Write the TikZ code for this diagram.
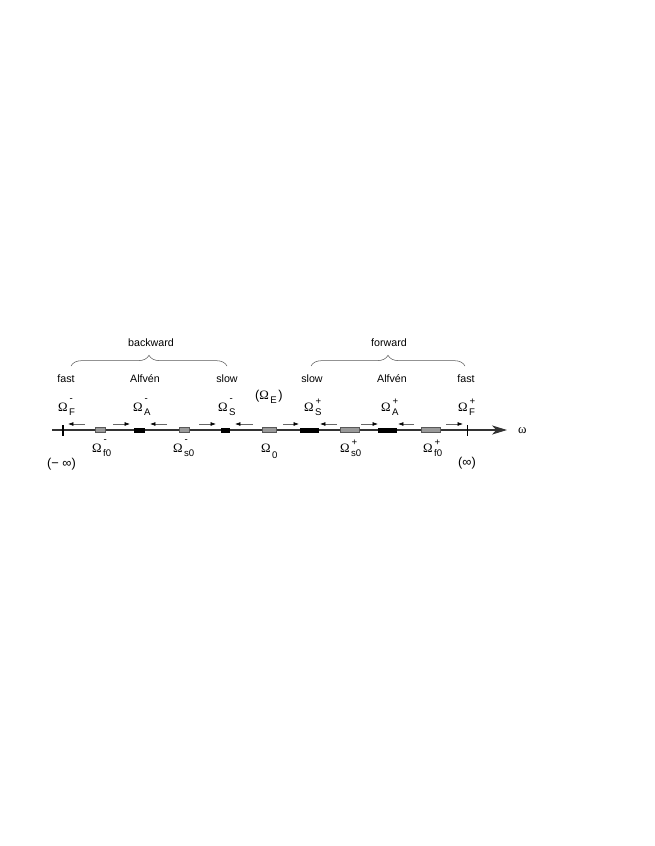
\documentclass[tikz,border=0pt]{standalone}
\usepackage{fontspec}
\setmainfont{Liberation Sans}
\newfontfamily\grk{Liberation Serif}
\usetikzlibrary{arrows.meta,decorations.pathreplacing}

% Omega with a stacked sub- and superscript
\newcommand{\mn}{\raisebox{2.5pt}{-}}
\newcommand{\om}[3][4.2pt]{{\grk\fontsize{12}{12}\selectfont Ω}\kern1.3pt\rlap{\kern0.5pt\raisebox{6.3pt}{\fontsize{9}{9}\selectfont #3}}\raisebox{-#1}{\fontsize{9}{9}\selectfont #2}}

\tikzset{
  word/.style={anchor=base, inner sep=0pt, font=\fontsize{10}{12}\selectfont},
  om/.style={anchor=base west, inner sep=0pt},
  graybox/.style={draw=black!65, fill=black!40, line width=0.5pt, inner sep=0pt,
    minimum height=5*0.9358pt, minimum width=#1*0.9358pt},
  blackbox/.style={fill=black, inner sep=0pt,
    minimum height=5*0.9358pt, minimum width=#1*0.9358pt},
  flowarr/.style={-{Latex[black,length=5pt,width=3.6pt]}, line width=0.6pt, black!60},
  axis/.style={-{Stealth[length=14pt,width=8.5pt,inset=4pt]}, line width=1.1pt, black!80},
  tick/.style={line width=1.8pt},
  brc/.style={decorate, decoration={brace, amplitude=10pt}, black!65, line width=0.5pt}
}

\begin{document}
\begin{tikzpicture}[x=0.9358pt,y=-0.9358pt]
\useasboundingbox (0,0) rectangle (654,846);

% axis
\coordinate (axL) at (52,430);
\coordinate (axR) at (507,430);
\draw[axis] (axL) -- (axR);
\node[anchor=base west, inner sep=0pt] (om) at (518,433) {\grk\fontsize{12}{12}\selectfont ω};

\draw[tick] (62.7,425) -- (62.7,436);
\draw[tick] (467.5,425) -- (467.5,436);

% boxes on the axis
\node[graybox=10]  (bf0m) at (100,430)   {};
\node[blackbox=11] (bAm)  at (139.5,430) {};
\node[graybox=10]  (bs0m) at (184,430)   {};
\node[blackbox=9]  (bSm)  at (225.5,430) {};
\node[graybox=14]  (bz)   at (269,430)   {};
\node[blackbox=19] (bSp)  at (309,430)   {};
\node[graybox=19]  (bs0p) at (350,430)   {};
\node[blackbox=19] (bAp)  at (387.5,430) {};
\node[graybox=19]  (bf0p) at (430.5,430) {};

% small arrows
\foreach \s/\e in {85/68,113/130,167/150,199/216,253/235,283/299,337/320,361/378,414/398,446/463}
  \draw[flowarr] (\s,424) -- (\e,424);

% labels above
\node[om] (omFm) at (58,411)  {\om{F}{\mn}};
\node[om] (omAm) at (133,411) {\om{A}{\mn}};
\node[om] (omSm) at (218,411) {\om{S}{\mn}};
\node[om] (omE)  at (255,399) {{\fontsize{12}{12}\selectfont(}\om[4pt]{E}{}\kern1.5pt{\fontsize{12}{12}\selectfont)}};
\node[om] (omSp) at (304,411) {\om{S}{+}};
\node[om] (omAp) at (381,411) {\om{A}{+}};
\node[om] (omFp) at (458,411) {\om{F}{+}};

% labels below
\node[om] (omfm) at (92,452.3)  {\om{f0}{\mn}};
\node[om] (omsm) at (173,452.3) {\om{s0}{\mn}};
\node[om] (omz)  at (261,452.3) {\om[5.6pt]{0}{}};
\node[om] (omsp) at (340,452.3) {\om{s0}{+}};
\node[om] (omfp) at (423,452.3) {\om{f0}{+}};

\node[word, font=\fontsize{12}{12}\selectfont] (minf) at (61.5,467) {(− ∞)};
\node[word, font=\fontsize{12}{12}\selectfont] (pinf) at (467,466) {(∞)};

% wave names
\node[word] (fastL)  at (66,382)  {fast};
\node[word] (alfL)   at (145,382) {Alfvén};
\node[word] (slowL)  at (227,382) {slow};
\node[word] (slowR)  at (312,382) {slow};
\node[word] (alfR)   at (392,382) {Alfvén};
\node[word] (fastR)  at (466,382) {fast};

\draw[brc] (71,366) -- (227,366);
\draw[brc] (311,366) -- (465,366);
\node[word] (bw) at (151,346) {backward};
\node[word] (fw) at (389,346) {forward};
\end{tikzpicture}
\end{document}
